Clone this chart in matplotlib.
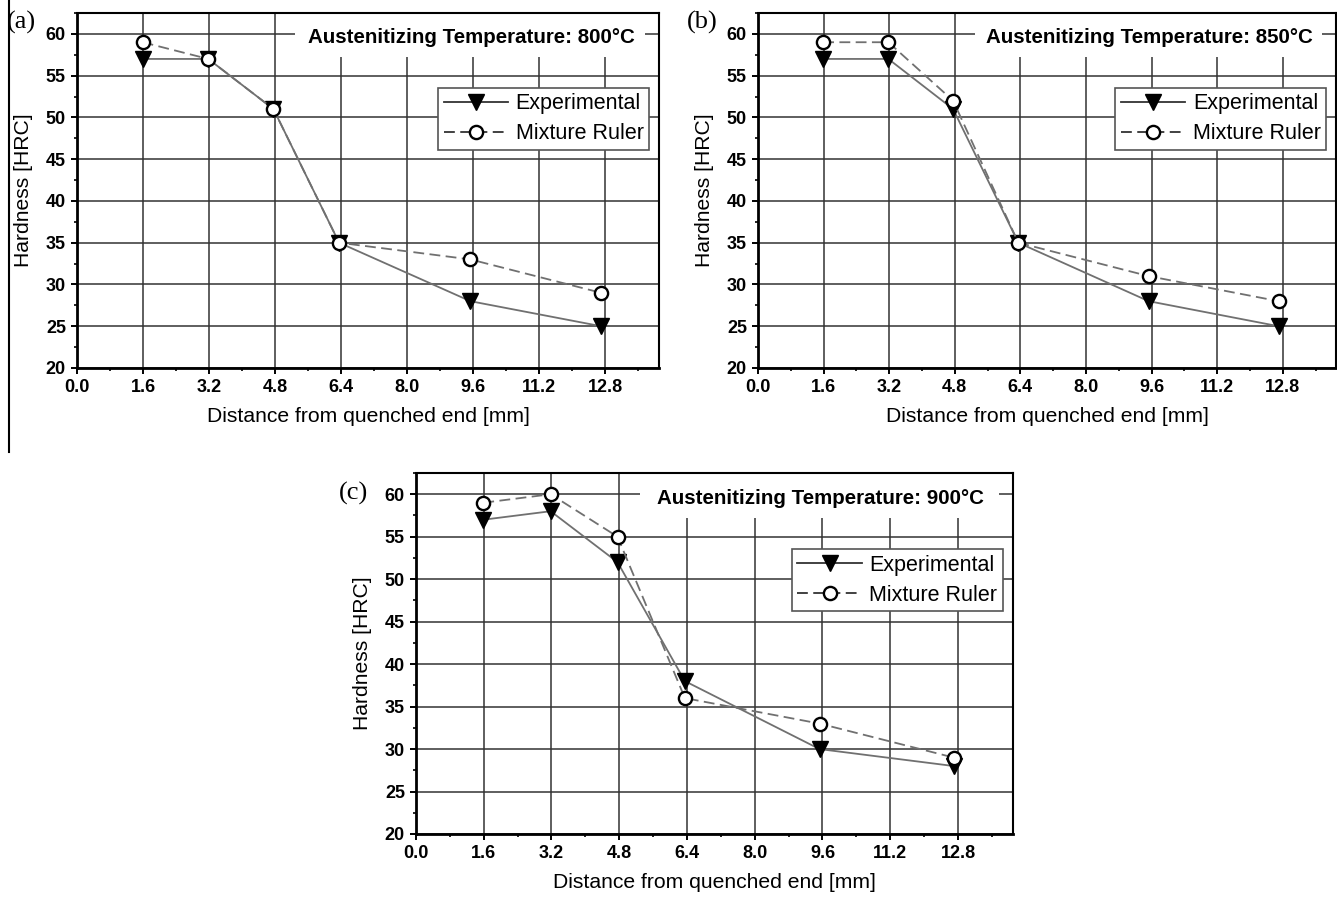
import matplotlib
matplotlib.use('Agg')
import matplotlib.pyplot as plt
from matplotlib.lines import Line2D
from matplotlib.patches import Rectangle
from matplotlib.ticker import MultipleLocator, FixedLocator, FormatStrFormatter

# ---------------- data ----------------
distance_mm = [1.59, 3.18, 4.76, 6.35, 9.53, 12.7]
exp_800 = [57, 57, 51, 35, 28, 25]
mix_800 = [59, 57, 51, 35, 33, 29]
exp_850 = [57, 57, 51, 35, 28, 25]
mix_850 = [59, 59, 52, 35, 31, 28]
exp_900 = [57, 58, 52, 38, 30, 28]
mix_900 = [59, 60, 55, 36, 33, 29]
temperatures = ['800°C', '850°C', '900°C']
panel_labels = ['(a)', '(b)', '(c)']
series_labels = ['Experimental', 'Mixture Ruler']
x_ticks = [0.0, 1.6, 3.2, 4.8, 6.4, 8.0, 9.6, 11.2, 12.8]
y_ticks = [20, 25, 30, 35, 40, 45, 50, 55, 60]
x_label = 'Distance from quenched end [mm]'
y_label = 'Hardness [HRC]'

W, H = 1337, 898
fig = plt.figure(figsize=(W / 100, H / 100), dpi=100)
plt.rcParams['font.family'] = ['Liberation Sans', 'DejaVu Sans']


def px_rect(l, t, r, b):
    return [l / W, 1 - b / H, (r - l) / W, (b - t) / H]


# axes rectangles in pixels (left, top, right, bottom)
rects = [(77, 13, 659, 368), (758, 13, 1336, 368), (416, 473, 1013, 834)]
label_pos = [(7, 22), (687, 22), (339, 493)]
series = [(exp_800, mix_800), (exp_850, mix_850), (exp_900, mix_900)]

line_col = '#707070'

for i in range(3):
    ax = fig.add_axes(px_rect(*rects[i]))
    exp, mix = series[i]
    ax.set_xlim(0, 14.1)
    ax.set_ylim(20, 62.5)
    ax.set_axisbelow(True)
    ax.grid(True, which='major', color='#333333', lw=1.1)

    ax.xaxis.set_major_locator(FixedLocator(x_ticks))
    ax.xaxis.set_minor_locator(MultipleLocator(0.8))
    ax.yaxis.set_major_locator(FixedLocator(y_ticks))
    ax.yaxis.set_minor_locator(MultipleLocator(2.5))
    ax.xaxis.set_major_formatter(FormatStrFormatter('%.1f'))
    ax.yaxis.set_major_formatter(FormatStrFormatter('%d'))
    ax.tick_params(which='major', direction='out', length=4, width=1.4,
                   labelsize=13, pad=4)
    ax.tick_params(which='minor', direction='out', length=2.5, width=1.2)
    for lab in ax.get_xticklabels() + ax.get_yticklabels():
        lab.set_fontweight('bold')

    for s in ['left', 'bottom']:
        ax.spines[s].set_linewidth(2.0)
    for s in ['top', 'right']:
        ax.spines[s].set_linewidth(1.5)

    ax.plot(distance_mm, exp, color=line_col, lw=1.3, ls='-',
            marker='v', ms=11, mfc='black', mec='black', zorder=3,
            label=series_labels[0])
    ax.plot(distance_mm, mix, color=line_col, lw=1.3, ls=(0, (6, 3)),
            marker='o', ms=9.5, mfc='white', mec='black', mew=1.7, zorder=4,
            label=series_labels[1])

    # white box behind the temperature text
    ax.add_patch(Rectangle((0.375, 0.876), 0.601, 0.124, transform=ax.transAxes,
                           facecolor='white', edgecolor='none', zorder=1))
    ax.text(0.677, 0.915, 'Austenitizing Temperature: ' + temperatures[i],
            transform=ax.transAxes, ha='center', va='baseline',
            fontsize=14.8, fontweight='bold', zorder=5)

    leg = ax.legend(loc='upper right', bbox_to_anchor=(0.983, 0.789),
                    fontsize=15.5, frameon=True, fancybox=False, framealpha=1,
                    edgecolor='#555555', borderpad=0.25, labelspacing=0.42,
                    handlelength=3.0, handletextpad=0.35, borderaxespad=0)
    leg.get_frame().set_linewidth(1.2)
    for h in leg.get_lines():
        h.set_color('#333333')

    ax.set_xlabel(x_label, fontsize=15.2, labelpad=8)
    ax.set_ylabel(y_label, fontsize=15.2, labelpad=9)

    lx, ly = label_pos[i]
    fig.text(lx / W, 1 - ly / H, panel_labels[i], ha='left', va='center',
             fontsize=19, family=['Liberation Serif', 'DejaVu Serif'])

fig.add_artist(Line2D([9 / W, 9 / W], [1.0, 1 - 452 / H], color='black',
                      lw=1.5, transform=fig.transFigure))

fig.savefig('out.png', dpi=100)
